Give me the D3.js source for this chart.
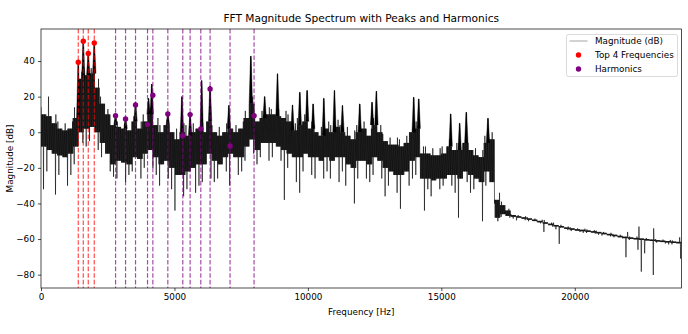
<!DOCTYPE html>
<html><head><meta charset="utf-8">
<script src="https://cdn.jsdelivr.net/npm/d3@7"></script>
<style>
body{margin:0;background:#fff}
svg{display:block}
text{font-family:"DejaVu Sans",sans-serif;fill:#000}
</style>
</head><body>
<svg id="c" width="688" height="334"></svg>
<script>
// ---- data ----
const binHz = 200; // each entry below covers one 200 Hz band, 0..24000 Hz
const coreHi = [10,9,5,2,1,2,8,30,32,33,25,16,10,4,3,2,1,6,2,6,
  10,4,0,4,0,-4,0,-2,0,2,0,6,0,-2,0,2,0,2,8,16,
  6,8,10,10,9,8,6,1,4,6,2,0,-2,2,0,3,0,-2,-4,0,
  2,-2,4,0,-5,-7,-7,-8,-6,0,2,-12,-12,-13,-13,-12,-8,-10,-10,-6,
  -10,-13,-14,-6,-4,-38,-41,-44,-46.5,-47.2,-47.8,-48.4,-49.1,-49.8,-50.6,-51.4,-52.1,-52.7,-53.5,-54.0,
  -54.5,-54.8,-55.2,-55.6,-56.0,-56.5,-57.1,-57.6,-58.2,-58.7,-59.1,-59.4,-59.7,-60.0,-60.3,-60.6,-60.9,-61.1,-61.4,-61.6];
const coreLo = [-8,-10,-12,-13,-14,-12,-8,0,2,3,0,-6,-12,-18,-16,-17,-18,-14,-15,-12,
  -10,-14,-18,-16,-20,-24,-24,-22,-20,-18,-18,-12,-16,-18,-14,-12,-14,-14,-8,-4,
  -10,-6,-6,-6,-8,-10,-12,-14,-14,-12,-14,-14,-16,-14,-16,-14,-14,-18,-20,-16,
  -16,-18,-14,-16,-20,-22,-24,-24,-22,-16,-14,-26,-26,-27,-26,-26,-24,-24,-26,-22,
  -24,-26,-28,-22,-28,-48,-46,-47,-47.5,-48.0,-48.6,-49.2,-49.9,-50.6,-51.4,-52.2,-52.9,-53.5,-54.3,-54.8,
  -55.3,-55.6,-56.0,-56.4,-56.8,-57.3,-57.9,-58.4,-59.0,-59.5,-59.9,-60.2,-60.5,-60.8,-61.1,-61.4,-61.7,-61.9,-62.2,-62.4];
const spikeHi = [14,20,10,6,5,6,14,34,36,36,30,20,13,7,6,5,4,9,6,10,
  14,8,4,7,4,2,5,4,5,6,5,10,4,3,5,6,4,6,12,20,
  10,12,14,13,13,12,10,5,8,10,6,4,3,6,4,7,4,3,1,4,
  6,2,8,4,-1,-3,-3,-4,-2,4,6,-8,-8,-9,-9,-8,-4,-6,-6,-2,
  -6,-9,-10,-2,0,-34,-39,-43,-46,-46.5,-47.2,-47.8,-48.5,-49.2,-49.3,-50.8,-50.8,-52,-53,-53.4,
  -54,-54.2,-54.6,-55,-55.3,-56,-56.5,-57.1,-57.6,-56,-58.6,-58.6,-53,-59.4,-54,-60,-60.3,-60.5,-60.8,-59];
const spikeLo = [-32,-22,-35,-24,-30,-24,-18,-6,-8,-5,-10,-14,-22,-25,-26,-28,-24,-22,-26,-20,
  -20,-24,-30,-26,-32,-44,-36,-32,-34,-30,-28,-26,-28,-26,-22,-30,-24,-22,-16,-12,
  -18,-14,-16,-14,-16,-38,-20,-28,-34,-22,-24,-26,-26,-22,-26,-28,-22,-30,-40,-26,
  -26,-28,-24,-26,-36,-30,-34,-43,-30,-26,-24,-44,-32,-36,-32,-30,-30,-34,-48,-28,
  -34,-32,-50,-30,-40,-50,-47.5,-48,-48.5,-49.5,-49.4,-50,-50.5,-51.2,-56,-53,-54.5,-62.7,-55,-55.5,
  -56,-56.5,-56.6,-57,-57.6,-58,-58.5,-59,-59.6,-70.2,-60.5,-66,-78.3,-68,-80.2,-62,-62.5,-63,-63,-71];
// tonal peaks (Hz, dB)
const toneFreq = [1397,1584,1771,1996,2794,3168,3542,4030,4150,4752,5280,5588,6020,6336,7040,7862,8380,8862,
  9424,9697,9972,10197,10596,10996,11296,11943,12405,12568,13965,14153,15350,15687,15937,16748];
const toneDb = [39.3,51.1,44.2,50.2,10,8.5,17,19,27,11,20,11,29,26,15,42.7,20,32.8,
  15.3,22.4,23.4,15.9,19,23.4,15,15.9,16.8,23,19.6,18.7,10.3,5,11.2,7.8];
// markers
const topFreq = [1397,1584,1771,1996];
const topDb = [39.3,51.1,44.2,50.2];
const harmFreq = [2794,3168,3542,3992,4191,4752,5313,5588,5988,6336,7084,7984];
const harmDb = [9.3,7.5,15.3,4.3,20.8,10.3,-1.9,9.9,1.9,24.3,-7.7,9.3];
const xTicks = [0,5000,10000,15000,20000];
const yTicks = [-80,-60,-40,-20,0,20,40];
const xDomain = [0,24000];
const yDomain = [-87.5,58];
const legendLabels = ["Magnitude (dB)","Top 4 Frequencies","Harmonics"];

// ---- layout ----
const L = 41, R = 681.5, T = 29, B = 288;
const svg = d3.select("#c");
const x = d3.scaleLinear().domain(xDomain).range([L,R]);
const y = d3.scaleLinear().domain(yDomain).range([B,T]);

svg.append("defs").append("clipPath").attr("id","clip")
  .append("rect").attr("x",L).attr("y",T).attr("width",R-L).attr("height",B-T);

// spectrum polyline built from the per-band envelope
const N = 16;
const pts = [];
for (let i = 0; i < coreHi.length; i++) {
  const hiK = 2 * ((i * 3) % 8);         // where in the band the upward excursion is drawn
  const loK = 2 * ((i * 5 + 3) % 8) + 1; // where in the band the downward excursion is drawn
  for (let k = 0; k < N; k++) {
    const f = (i + (k + 0.5) / N) * binHz;
    let v;
    if (k % 2 === 0) v = (k === hiK) ? spikeHi[i] : coreHi[i];
    else v = (k === loK) ? spikeLo[i] : coreLo[i];
    pts.push([f, v]);
  }
}
toneFreq.forEach((f, j) => pts.push([f, toneDb[j]]));
pts.sort((a, b) => a[0] - b[0]);

const g = svg.append("g").attr("clip-path","url(#clip)");
g.append("path")
  .attr("d", d3.line().x(d => x(d[0])).y(d => y(d[1]))(pts))
  .attr("fill","none").attr("stroke","#000").attr("stroke-width",0.6);

// tonal peak bodies: narrow spike rising from the band top
const bandTop = f => coreHi[Math.min(coreHi.length - 1, Math.floor(f / binHz))];
g.selectAll(".tone").data(toneFreq).join("path")
  .attr("d", (f, j) => d3.line()([
    [x(f) - 1.7, y(bandTop(f))],
    [x(f) - 0.3, y(toneDb[j])],
    [x(f) + 0.3, y(toneDb[j])],
    [x(f) + 1.7, y(bandTop(f))]
  ]))
  .attr("fill","#000").attr("stroke","#000").attr("stroke-width",0.4);

// vertical dashed lines
g.selectAll(".vt").data(topFreq).join("line")
  .attr("x1", d => x(d)).attr("x2", d => x(d)).attr("y1", T).attr("y2", B)
  .attr("stroke","red").attr("stroke-opacity",0.7).attr("stroke-width",1.2)
  .attr("stroke-dasharray","4.6,2");
g.selectAll(".vh").data(harmFreq).join("line")
  .attr("x1", d => x(d)).attr("x2", d => x(d)).attr("y1", T).attr("y2", B)
  .attr("stroke","purple").attr("stroke-opacity",0.7).attr("stroke-width",1.2)
  .attr("stroke-dasharray","4.6,2");

// markers
svg.selectAll(".pt").data(topFreq).join("circle")
  .attr("cx", d => x(d)).attr("cy", (d,i) => y(topDb[i])).attr("r",2.7).attr("fill","red");
svg.selectAll(".ph").data(harmFreq).join("circle")
  .attr("cx", d => x(d)).attr("cy", (d,i) => y(harmDb[i])).attr("r",2.7).attr("fill","purple");

// axes
const fs = 8.8;
const xa = svg.append("g").attr("transform",`translate(0,${B})`)
  .call(d3.axisBottom(x).tickValues(xTicks).tickFormat(d3.format("d")).tickSize(3.1).tickPadding(3.1));
const ya = svg.append("g").attr("transform",`translate(${L},0)`)
  .call(d3.axisLeft(y).tickValues(yTicks).tickFormat(d3.format("d")).tickSize(3.1).tickPadding(3.1));
[xa,ya].forEach(a => {
  a.select(".domain").remove();
  a.selectAll("line").attr("stroke","#000").attr("stroke-width",0.7);
  a.selectAll("text").attr("font-size",fs).attr("font-family","DejaVu Sans").attr("fill","#000");
});

// frame
svg.append("rect").attr("x",L).attr("y",T).attr("width",R-L).attr("height",B-T)
  .attr("fill","none").attr("stroke","#000").attr("stroke-width",0.7);

// labels
svg.append("text").attr("x",(L+R)/2).attr("y",22).attr("text-anchor","middle")
  .attr("font-size",10.6).text("FFT Magnitude Spectrum with Peaks and Harmonics");
svg.append("text").attr("x",(L+R)/2).attr("y",315).attr("text-anchor","middle")
  .attr("font-size",fs).text("Frequency [Hz]");
svg.append("text").attr("transform",`translate(12.5,${(T+B)/2}) rotate(-90)`).attr("text-anchor","middle")
  .attr("font-size",fs).text("Magnitude [dB]");

// legend
const lg = svg.append("g");
lg.append("rect").attr("x",566.5).attr("y",34.5).attr("width",111).attr("height",42)
  .attr("rx",2).attr("fill","#fff").attr("fill-opacity",0.8).attr("stroke","#ccc").attr("stroke-width",0.7);
const rowY = [41, 55, 69];
lg.append("line").attr("x1",569.5).attr("x2",587.5).attr("y1",rowY[0]).attr("y2",rowY[0])
  .attr("stroke","#000").attr("stroke-width",0.6).attr("stroke-opacity",0.6);
lg.append("circle").attr("cx",578.5).attr("cy",rowY[1]).attr("r",2.7).attr("fill","red");
lg.append("circle").attr("cx",578.5).attr("cy",rowY[2]).attr("r",2.7).attr("fill","purple");
lg.selectAll(".lt").data(legendLabels).join("text")
  .attr("x",595).attr("y",(d,i)=>rowY[i]).attr("dy","0.35em")
  .attr("font-size",fs).text(d=>d);
</script>
</body></html>
